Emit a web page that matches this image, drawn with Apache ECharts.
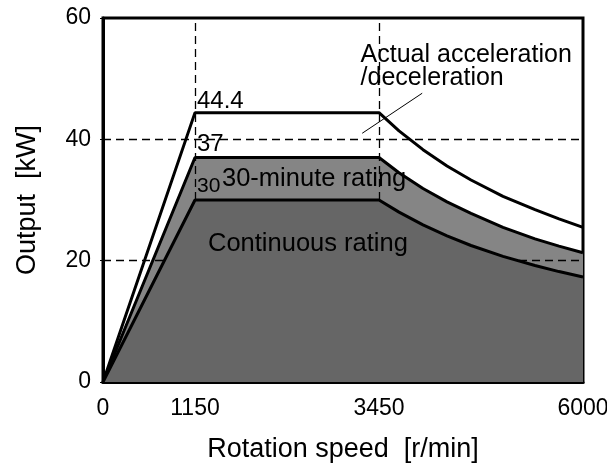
<!DOCTYPE html>
<html>
<head>
<meta charset="utf-8">
<script src="https://cdn.jsdelivr.net/npm/echarts@6/dist/echarts.min.js"></script>
<style>html,body{margin:0;padding:0;background:#fff}#c{width:607px;height:466px}</style>
</head>
<body>
<div id="c"></div>
<script>
// Rotation speed [r/min] -> Output [kW]
const xTicks = [0, 1150, 3450, 6000];
const yTicks = [0, 20, 40, 60];
const speed = [0, 1150, 3450, 3700, 4000, 4300, 4600, 5000, 5400, 5700, 6000];
const actualAccel = [0, 44.4, 44.4, 41.4, 38.3, 35.6, 33.3, 30.6, 28.4, 26.9, 25.5];
const rating30min = [0, 37, 37, 34.5, 31.9, 29.7, 27.8, 25.5, 23.6, 22.4, 21.3];
const continuous = [0, 30, 30, 28.0, 25.9, 24.1, 22.5, 20.7, 19.2, 18.2, 17.3];
const guideX = [1150, 3450];
const guideY = [20, 40];
const leaderLine = [[3990, 47.6], [3240, 41.0]];

const FONT = '"Liberation Sans", Arial, sans-serif';
const pair = (ys) => speed.map((x, i) => [x, ys[i]]);

const chart = echarts.init(document.getElementById('c'), null, {renderer: 'canvas'});
const lbl = (text, pos, size, extra) => Object.assign({show: true, formatter: text, position: pos, align: 'left', verticalAlign: 'bottom', fontSize: size, fontFamily: FONT, color: '#000'}, extra || {});

chart.setOption({
  animation: false,
  textStyle: {fontFamily: FONT, color: '#000'},
  grid: {left: 103, right: 24, top: 18, bottom: 84, show: true, borderColor: '#000', borderWidth: 3, backgroundColor: 'transparent', containLabel: false, outerBoundsMode: 'none'},
  xAxis: {
    type: 'value', min: 0, max: 6000,
    name: 'Rotation speed  [r/min]', nameLocation: 'middle', nameGap: 54,
    nameTextStyle: {fontFamily: FONT, fontSize: 27, color: '#000'},
    axisLine: {show: true, lineStyle: {color: '#000', width: 3}},
    axisTick: {show: false},
    splitLine: {show: false},
    axisLabel: {customValues: xTicks, formatter: (v) => String(v), fontFamily: FONT, fontSize: 23, color: '#000', margin: 15}
  },
  yAxis: {
    type: 'value', min: 0, max: 60, interval: 20,
    name: 'Output  [kW]', nameLocation: 'middle', nameGap: 62,
    nameTextStyle: {fontFamily: FONT, fontSize: 27, color: '#000'},
    axisLine: {show: true, lineStyle: {color: '#000', width: 3}},
    axisTick: {show: true, length: 3, lineStyle: {color: '#000', width: 1}},
    splitLine: {show: false},
    axisLabel: {customValues: yTicks, formatter: (v) => String(v), fontFamily: FONT, fontSize: 23, color: '#000', margin: 12}
  },
  series: [
    {
      type: 'line', data: pair(actualAccel), symbol: 'none', z: 3,
      lineStyle: {color: '#000', width: 3}
    },
    {
      type: 'line', data: pair(rating30min), symbol: 'none', z: 4,
      lineStyle: {color: '#000', width: 3},
      areaStyle: {color: '#858585', opacity: 1}
    },
    {
      type: 'line', data: pair(continuous), symbol: 'none', z: 5,
      lineStyle: {color: '#000', width: 3},
      areaStyle: {color: '#666666', opacity: 1}
    },
    {
      type: 'line', data: leaderLine, symbol: 'none', z: 6,
      lineStyle: {color: '#000', width: 1}
    },
    {
      type: 'line', data: [], z: 7,
      markLine: {
        silent: true, symbol: ['none', 'none'], label: {show: false},
        lineStyle: {color: '#000', width: 1.3, type: [8, 5]},
        data: guideX.map(v => ({xAxis: v})).concat(guideY.map(v => ({yAxis: v})))
      },
      markPoint: {
        symbol: 'circle', symbolSize: 0, silent: true,
        data: [
          {coord: [1150, 44.4], label: lbl('44.4', [2, 1], 24)},
          {coord: [1150, 37], label: lbl('37', [2, -1], 24)},
          {coord: [1150, 30], label: lbl('30', [2, -3], 21)},
          {coord: [1150, 30], label: lbl('30-minute rating', [27, -8], 25.5)},
          {coord: [1150, 30], label: lbl('Continuous rating', [13, 57], 25.5)},
          {coord: [3220, 55.8], label: lbl('Actual acceleration\n/deceleration', [0, 0], 25, {verticalAlign: 'top', lineHeight: 23})}
        ]
      }
    }
  ]
});
</script>
</body>
</html>
